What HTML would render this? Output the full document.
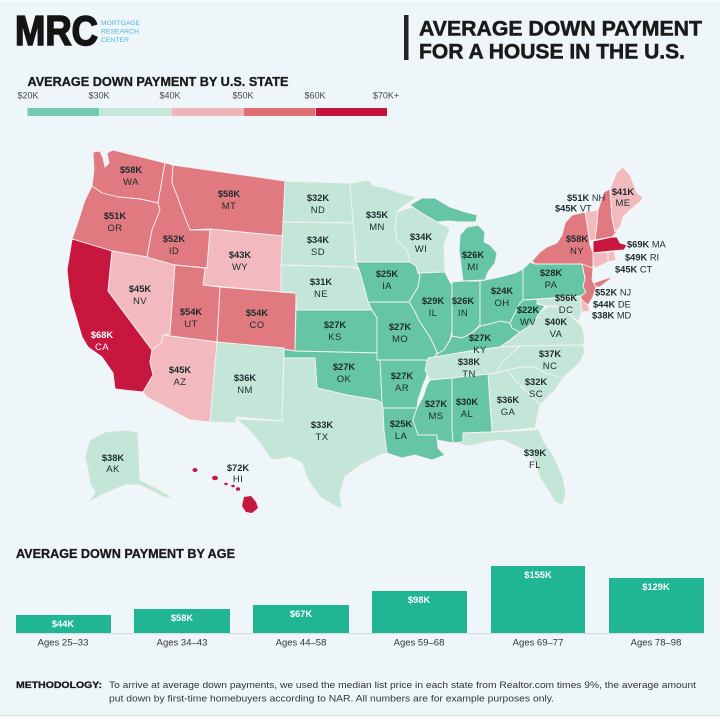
<!DOCTYPE html>
<html><head><meta charset="utf-8"><style>
html,body{margin:0;padding:0;background:#eef6f9;}
svg{display:block;}
.t{font-family:"Liberation Sans",sans-serif;}
.st polygon{stroke:#f6f2f2;stroke-width:0.9;stroke-linejoin:round;}
.T{fill:#66c5a5}.L{fill:#c4e6d9}.P{fill:#f2babe}.R{fill:#e07a80}.C{fill:#c8173f}
.a{font-family:"Liberation Sans",sans-serif;font-weight:bold;font-size:9.3px;fill:#1d2a2c;text-anchor:middle;}
.b{font-family:"Liberation Sans",sans-serif;font-size:9.5px;fill:#1d2a2c;text-anchor:middle;letter-spacing:0.4px;}
.s{font-family:"Liberation Sans",sans-serif;font-size:9.3px;fill:#1d2a2c;}
.s tspan.k{font-weight:bold;}
</style></head><body>
<svg width="720" height="720" viewBox="0 0 720 720" xmlns="http://www.w3.org/2000/svg">
<rect x="0" y="0" width="720" height="720" fill="#eef6f9"/>
<rect x="0" y="0" width="720" height="2" fill="#f8fbfc"/>
<rect x="0" y="716" width="720" height="4" fill="#fbfdfd"/>
<rect x="0" y="715" width="720" height="1" fill="#d9e1e3"/>

<!-- Header -->
<text class="t" x="15" y="45" font-size="42" font-weight="bold" fill="#141414" stroke="#141414" stroke-width="1.6" textLength="83" lengthAdjust="spacingAndGlyphs">MRC</text>
<text class="t" x="101" y="25" font-size="6.3" fill="#47b6e2" textLength="39" lengthAdjust="spacingAndGlyphs">MORTGAGE</text>
<text class="t" x="101" y="33.5" font-size="6.3" fill="#47b6e2" textLength="38" lengthAdjust="spacingAndGlyphs">RESEARCH</text>
<text class="t" x="101" y="42" font-size="6.3" fill="#47b6e2" textLength="28" lengthAdjust="spacingAndGlyphs">CENTER</text>
<rect x="404" y="15" width="4.5" height="45" fill="#222"/>
<text class="t" x="419" y="35.5" font-size="21" font-weight="bold" fill="#1a1a1a" stroke="#1a1a1a" stroke-width="0.5" textLength="283" lengthAdjust="spacingAndGlyphs">AVERAGE DOWN PAYMENT</text>
<text class="t" x="419" y="58.5" font-size="21" font-weight="bold" fill="#1a1a1a" stroke="#1a1a1a" stroke-width="0.5" textLength="266" lengthAdjust="spacingAndGlyphs">FOR A HOUSE IN THE U.S.</text>

<!-- Legend -->
<text class="t" x="27.5" y="86" font-size="12.5" font-weight="bold" fill="#1a1a1a" stroke="#1a1a1a" stroke-width="0.3" textLength="261" lengthAdjust="spacingAndGlyphs">AVERAGE DOWN PAYMENT BY U.S. STATE</text>
<g class="t" font-size="9" fill="#4a4a4a" text-anchor="middle">
<text x="28" y="98.5">$20K</text>
<text x="99" y="98.5">$30K</text>
<text x="170" y="98.5">$40K</text>
<text x="243" y="98.5">$50K</text>
<text x="315" y="98.5">$60K</text>
<text x="386" y="98.5">$70K+</text>
</g>
<rect x="27.5" y="108" width="71.5" height="8" fill="#72cbaf"/>
<rect x="99.5" y="108" width="71.5" height="8" fill="#c7e6da"/>
<rect x="171.5" y="108" width="71.5" height="8" fill="#f1b6bb"/>
<rect x="243.5" y="108" width="72" height="8" fill="#de6e76"/>
<rect x="316" y="108" width="71" height="8" fill="#c5143c"/>

<!-- Map -->
<g class="st">
<polygon class="R" points="93,152 100,151 103,158 105,167 109,163 107,153 113,150 165,163 158,203 140,199 118,197 102,193 92,186 94,170"/>
<polygon class="R" points="92,186 102,193 118,197 140,199 158,203 160,210 152,230 147,257 112,251 72,239 78,222 85,200"/>
<polygon class="C" points="72,239 112,251 108,291 152,350 150,362 153,375 143,392 115,389 113,373 102,357 88,347 82,337 75,313 70,297 67,270 70,252"/>
<polygon class="P" points="112,251 147,257 175,265 170,334 163,335 162,342 152,350 108,291"/>
<polygon class="R" points="165,163 173,165 172,183 178,198 183,212 190,230 210,230 207,268 175,265 147,257 152,230 160,210 158,203"/>
<polygon class="R" points="173,165 285,181 283,236 210,229 190,230 183,212 178,198 172,183"/>
<polygon class="P" points="210,229 283,236 281,292 203,285 205,268 207,268"/>
<polygon class="R" points="175,265 205,268 203,285 220,287 217,342 165,336 170,334"/>
<polygon class="R" points="220,287 281,292 296,293 295,351 217,342"/>
<polygon class="P" points="163,335 217,342 210,422 190,420 147,397 143,392 153,375 150,362 152,350 162,342"/>
<polygon class="L" points="217,342 284,348 282,421 237,417 236,423 210,422"/>
<polygon class="L" points="285,181 350,183 353,223 283,222"/>
<polygon class="L" points="283,222 353,223 355,240 355,258 360,268 352,267 281,265"/>
<polygon class="L" points="281,265 352,267 360,270 365,282 368,292 372,305 372,310 296,310 296,293 281,292"/>
<polygon class="T" points="296,310 372,310 377,318 377,353 295,351"/>
<polygon class="T" points="284,349 295,351 380,353 382,403 377,400 347,395 317,388 315,358 284,358"/>
<polygon class="L" points="284,358 315,358 317,388 347,395 377,400 382,403 383,408 384,430 387,453 380,455 370,460 357,467 345,477 340,493 342,509 333,505 320,497 308,480 302,463 290,457 277,460 270,458 260,443 247,428 236,419 282,421"/>
<polygon class="L" points="350,183 370,180 372,185 385,188 400,193 417,197 405,205 397,212 395,227 397,240 407,250 410,262 356,262 355,240 353,223"/>
<polygon class="T" points="356,262 410,262 416,266 420,275 418,287 412,297 409,302 368,302 365,290 360,272"/>
<polygon class="T" points="368,302 409,302 414,310 420,322 430,337 437,352 434,360 430,366 425,366 426,360 377,360 377,318 372,310"/>
<polygon class="T" points="380,360 426,360 430,366 427,375 423,385 418,400 417,408 383,408 382,403"/>
<polygon class="T" points="383,408 417,408 413,420 418,435 437,435 438,448 445,455 432,460 415,455 402,458 387,453 384,430"/>
<polygon class="L" points="397,212 412,207 420,212 437,222 450,228 444,245 445,272 418,273 416,266 410,262 407,250 397,240 395,227"/>
<polygon class="T" points="410,205 422,198 435,198 450,207 465,212 477,215 476,222 460,222 448,221 437,222 420,212"/>
<polygon class="T" points="460,235 467,227 478,225 485,232 484,242 490,245 497,253 495,263 488,272 485,280 463,281 461,265 459,250"/>
<polygon class="T" points="418,273 445,272 450,282 452,285 452,330 450,340 444,350 440,358 437,352 430,337 420,322 414,310 409,302 412,297 418,287 420,275"/>
<polygon class="T" points="452,282 463,281 480,281 480,325 472,333 462,338 452,336 452,330 452,285"/>
<polygon class="T" points="480,281 485,280 500,277 515,273 523,269 523,302 515,313 510,323 500,321 490,324 480,326"/>
<polygon class="T" points="431,360 437,354 444,350 450,340 452,336 462,338 472,333 480,326 490,324 500,321 510,323 512,328 520,332 510,340 500,347 470,351"/>
<polygon class="L" points="428,358 470,351 500,347 520,346 510,355 500,365 497,373 488,374 452,378 430,380 425,370"/>
<polygon class="L" points="500,347 510,340 520,332 528,327 535,320 540,312 548,307 560,307 568,312 575,320 582,326 585,340 583,345 540,346 520,346"/>
<polygon class="T" points="512,328 510,323 515,313 520,303 523,300 523,290 527,290 527,300 537,299 537,304 545,306 540,312 535,320 528,327 520,332"/>
<polygon class="L" points="537,299 580,296 582,312 578,322 572,316 566,309 556,306 545,306 537,303"/>
<polygon class="P" points="580,296 585,297 590,311 582,312"/>
<polygon class="T" points="523,269 530,262 535,264 582,264 585,278 583,287 588,293 580,296 523,300"/>
<polygon class="R" points="532,261 540,252 547,247 557,243 562,235 565,223 572,215 585,212 588,230 590,245 593,253 593,265 592,277 591,284 585,279 582,264 535,264"/>
<polygon class="R" points="591,284 605,279 613,277 600,287 592,287"/>
<polygon class="R" points="582,264 593,268 592,280 596,287 593,297 588,305 584,302 580,297 586,292 583,287 585,278"/>
<polygon class="P" points="585,212 598,210 597,225 595,240 590,241 588,230"/>
<polygon class="R" points="598,210 604,192 610,189 612,218 617,232 612,237 595,240 597,225"/>
<polygon class="P" points="610,189 617,172 623,167 630,175 637,193 643,197 640,202 630,210 623,217 620,227 615,232 612,218"/>
<polygon class="C" points="593,241 612,237 617,237 620,243 627,245 624,250 612,251 593,253"/>
<polygon class="P" points="593,253 608,252 608,262 595,268 593,265"/>
<polygon class="P" points="608,252 614,251 616,260 608,262"/>
<polygon class="L" points="520,346 583,345 585,352 580,362 572,370 563,378 545,373 535,367 522,367 507,370 497,373 500,365 510,355"/>
<polygon class="L" points="507,370 522,367 535,367 545,373 563,378 555,390 545,400 540,405 535,400 525,390 515,380"/>
<polygon class="L" points="488,374 497,373 507,370 515,380 525,390 535,400 540,405 537,418 535,428 492,432 490,405"/>
<polygon class="T" points="452,378 488,374 490,405 492,432 463,433 463,442 453,443 452,430"/>
<polygon class="T" points="430,380 452,378 452,430 453,443 437,440 437,435 418,435 413,420 417,408 423,397 427,385"/>
<polygon class="L" points="453,443 463,442 463,433 492,432 535,430 538,428 543,440 553,455 563,477 566,495 562,505 555,502 548,490 540,478 535,463 530,453 520,448 503,440 487,442 470,446"/>
<polygon class="L" points="90,440 105,432 125,430 138,432 140,480 150,485 160,490 172,497 165,498 150,490 140,485 125,485 113,490 100,496 87,503 95,493 90,483 88,470 85,457 88,445"/>
</g>
<g fill="#c8173f">
<ellipse cx="195" cy="470" rx="2.5" ry="2"/>
<ellipse cx="215" cy="478" rx="3" ry="2.2"/>
<ellipse cx="226" cy="484" rx="1.8" ry="1.2"/>
<ellipse cx="233" cy="486" rx="1.8" ry="1.3"/>
<ellipse cx="238" cy="489" rx="2.2" ry="1.8"/>
<polygon points="244,497 251,496 256,502 258,508 252,513 246,512 242,506"/>
</g>

<!-- State labels -->
<text class="a" x="131" y="173">$58K</text><text class="b" x="131" y="185">WA</text>
<text class="a" x="115" y="219">$51K</text><text class="b" x="115" y="231">OR</text>
<text class="a" x="174" y="242">$52K</text><text class="b" x="174" y="254">ID</text>
<text class="a" x="229" y="197">$58K</text><text class="b" x="229" y="209">MT</text>
<text class="a" x="240" y="258">$43K</text><text class="b" x="240" y="270">WY</text>
<text class="a" x="140" y="292">$45K</text><text class="b" x="140" y="304">NV</text>
<text class="a" x="191" y="315">$54K</text><text class="b" x="191" y="327">UT</text>
<text class="a" x="257" y="316">$54K</text><text class="b" x="257" y="328">CO</text>
<text class="a" x="102" y="338" style="fill:#fff">$68K</text><text class="b" x="102" y="350" style="fill:#fff">CA</text>
<text class="a" x="180" y="373">$45K</text><text class="b" x="180" y="385">AZ</text>
<text class="a" x="245" y="381">$36K</text><text class="b" x="245" y="393">NM</text>
<text class="a" x="318" y="201">$32K</text><text class="b" x="318" y="213">ND</text>
<text class="a" x="318" y="243">$34K</text><text class="b" x="318" y="255">SD</text>
<text class="a" x="321" y="285">$31K</text><text class="b" x="321" y="297">NE</text>
<text class="a" x="335" y="328">$27K</text><text class="b" x="335" y="340">KS</text>
<text class="a" x="344" y="370">$27K</text><text class="b" x="344" y="382">OK</text>
<text class="a" x="322" y="428">$33K</text><text class="b" x="322" y="440">TX</text>
<text class="a" x="377" y="218">$35K</text><text class="b" x="377" y="230">MN</text>
<text class="a" x="387" y="277">$25K</text><text class="b" x="387" y="289">IA</text>
<text class="a" x="400" y="330">$27K</text><text class="b" x="400" y="342">MO</text>
<text class="a" x="402" y="379">$27K</text><text class="b" x="402" y="391">AR</text>
<text class="a" x="401" y="427">$25K</text><text class="b" x="401" y="439">LA</text>
<text class="a" x="421" y="240">$34K</text><text class="b" x="421" y="252">WI</text>
<text class="a" x="433" y="304">$29K</text><text class="b" x="433" y="316">IL</text>
<text class="a" x="463" y="304">$26K</text><text class="b" x="463" y="316">IN</text>
<text class="a" x="473" y="258">$26K</text><text class="b" x="473" y="270">MI</text>
<text class="a" x="502" y="294">$24K</text><text class="b" x="502" y="306">OH</text>
<text class="a" x="480" y="341">$27K</text><text class="b" x="480" y="353">KY</text>
<text class="a" x="469" y="365">$38K</text><text class="b" x="469" y="377">TN</text>
<text class="a" x="436" y="407">$27K</text><text class="b" x="436" y="419">MS</text>
<text class="a" x="467" y="405">$30K</text><text class="b" x="467" y="417">AL</text>
<text class="a" x="508" y="403">$36K</text><text class="b" x="508" y="415">GA</text>
<text class="a" x="536" y="385">$32K</text><text class="b" x="536" y="397">SC</text>
<text class="a" x="550" y="357">$37K</text><text class="b" x="550" y="369">NC</text>
<text class="a" x="556" y="325">$40K</text><text class="b" x="556" y="337">VA</text>
<text class="a" x="528" y="313">$22K</text><text class="b" x="528" y="325">WV</text>
<text class="a" x="551" y="276">$28K</text><text class="b" x="551" y="288">PA</text>
<text class="a" x="577" y="242">$58K</text><text class="b" x="577" y="254">NY</text>
<text class="a" x="566" y="301">$56K</text><text class="b" x="566" y="313">DC</text>
<text class="a" x="535" y="456">$39K</text><text class="b" x="535" y="468">FL</text>
<text class="a" x="623" y="195">$41K</text><text class="b" x="623" y="206">ME</text>
<text class="a" x="113" y="461">$38K</text><text class="b" x="113" y="472">AK</text>
<text class="a" x="238" y="471">$72K</text><text class="b" x="238" y="482">HI</text>
<text class="s" x="567" y="201"><tspan class="k">$51K</tspan> NH</text>
<text class="s" x="555" y="211.5"><tspan class="k">$45K</tspan> VT</text>
<text class="s" x="627" y="247.5"><tspan class="k">$69K</tspan> MA</text>
<text class="s" x="625" y="260.5"><tspan class="k">$49K</tspan> RI</text>
<text class="s" x="615" y="272.5"><tspan class="k">$45K</tspan> CT</text>
<text class="s" x="595" y="295.5"><tspan class="k">$52K</tspan> NJ</text>
<text class="s" x="593" y="307.5"><tspan class="k">$44K</tspan> DE</text>
<text class="s" x="592" y="318.5"><tspan class="k">$38K</tspan> MD</text>

<!-- Age section -->
<text class="t" x="16" y="558" font-size="12.5" font-weight="bold" fill="#1a1a1a" stroke="#1a1a1a" stroke-width="0.3" textLength="219" lengthAdjust="spacingAndGlyphs">AVERAGE DOWN PAYMENT BY AGE</text>
<rect x="16" y="633" width="688" height="1.2" fill="#d6dfe0"/>
<g fill="#20b693">
<rect x="16" y="615" width="95" height="18"/>
<rect x="134" y="609" width="96" height="24"/>
<rect x="253" y="605" width="96" height="28"/>
<rect x="372" y="591" width="95" height="42"/>
<rect x="491" y="566" width="94" height="67"/>
<rect x="609" y="578" width="95" height="55"/>
</g>
<g class="t" font-size="9.3" font-weight="bold" fill="#ffffff" text-anchor="middle">
<text x="63" y="627">$44K</text>
<text x="182" y="621">$58K</text>
<text x="301" y="617">$67K</text>
<text x="419" y="603">$98K</text>
<text x="538" y="578">$155K</text>
<text x="656" y="590">$129K</text>
</g>
<g class="t" font-size="9.5" fill="#333" text-anchor="middle">
<text x="63" y="645.5">Ages 25–33</text>
<text x="182" y="645.5">Ages 34–43</text>
<text x="301" y="645.5">Ages 44–58</text>
<text x="419" y="645.5">Ages 59–68</text>
<text x="538" y="645.5">Ages 69–77</text>
<text x="656" y="645.5">Ages 78–98</text>
</g>

<!-- Methodology -->
<text class="t" x="16" y="688" font-size="9.5" font-weight="bold" fill="#1a1a1a" stroke="#1a1a1a" stroke-width="0.3" textLength="86" lengthAdjust="spacingAndGlyphs">METHODOLOGY:</text>
<text class="t" x="109" y="688" font-size="9.5" fill="#333" textLength="587" lengthAdjust="spacingAndGlyphs">To arrive at average down payments, we used the median list price in each state from Realtor.com times 9%, the average amount</text>
<text class="t" x="109" y="701.5" font-size="9.5" fill="#333" textLength="445" lengthAdjust="spacingAndGlyphs">put down by first-time homebuyers according to NAR. All numbers are for example purposes only.</text>
</svg>
</body></html>
